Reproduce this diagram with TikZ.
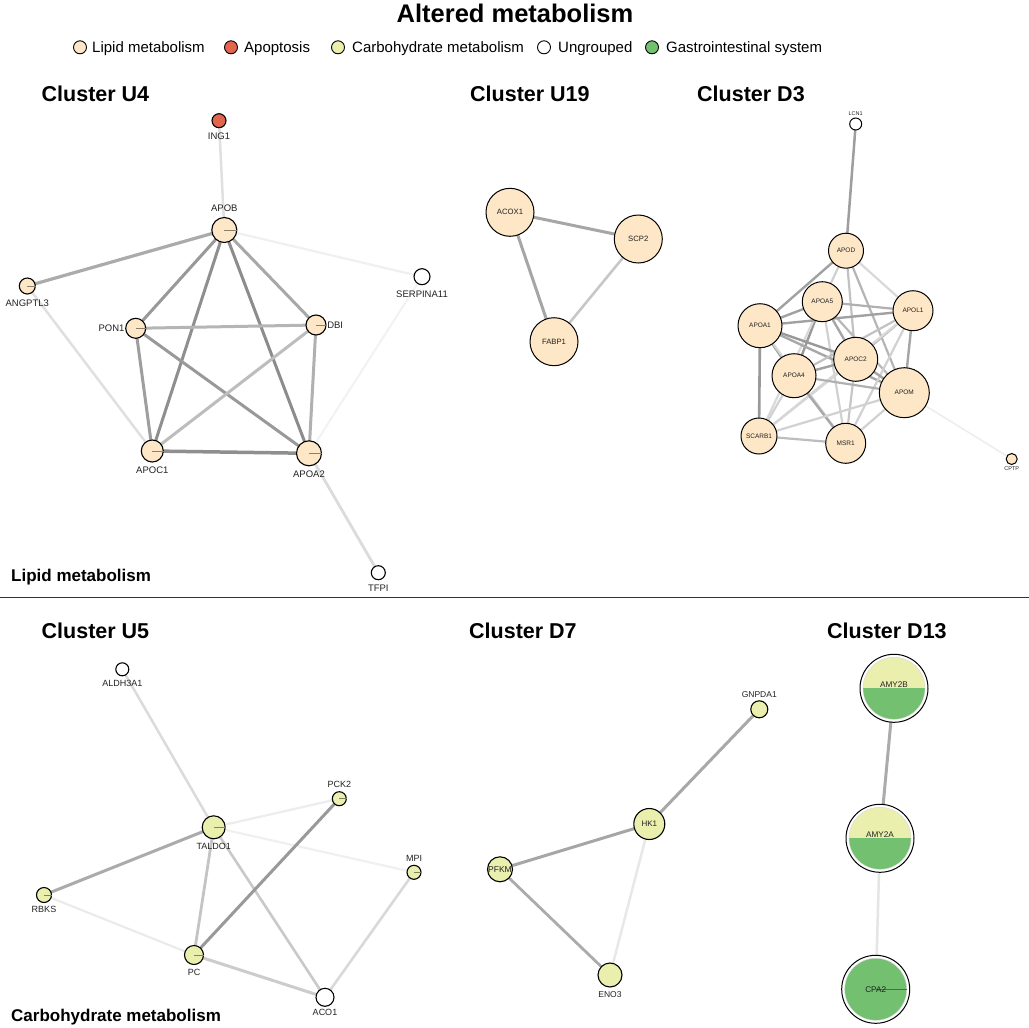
\documentclass[tikz,border=0pt]{standalone}
\usepackage{fontspec}
\setmainfont{Liberation Sans}
\pgfdeclarelayer{bg}
\pgfdeclarelayer{edges}
\pgfsetlayers{bg,edges,main}
\definecolor{lipid}{HTML}{FDE7C6}
\definecolor{apop}{HTML}{E3654D}
\definecolor{carb}{HTML}{EBEFAE}
\definecolor{gastro}{HTML}{72C070}
\definecolor{txt}{HTML}{222222}
\tikzset{
  gnode/.style={circle, draw=black, line width=1.1pt, inner sep=0pt, minimum size=#1, text=txt},
  lipn/.style={gnode=#1, fill=lipid},
  apon/.style={gnode=#1, fill=apop},
  carbn/.style={gnode=#1, fill=carb},
  ungn/.style={gnode=#1, fill=white},
  lbl/.style={font=\fontsize{9.5}{10}\selectfont, text=txt, inner sep=0.5pt},
  lblc/.style={font=\fontsize{9}{10}\selectfont, text=txt, inner sep=0.5pt},
  lbld/.style={font=\fontsize{8.5}{10}\selectfont, text=txt, inner sep=0.5pt},
  tiny/.style={font=\fontsize{5.5}{6}\selectfont, text=txt, inner sep=0.5pt},
  ed/.style 2 args={draw=black!#1, line width=#2pt, line cap=round},
  tickl/.style={draw=#1, line width=0.5pt},
  ctitle/.style={font=\bfseries\fontsize{21.5}{26}\selectfont, anchor=base west, inner sep=0pt},
  stitle/.style={font=\bfseries\fontsize{17}{20}\selectfont, anchor=base west, inner sep=0pt},
  legtxt/.style={font=\fontsize{15}{18}\selectfont, anchor=base west, inner sep=0pt},
  legc/.style={circle, draw=black, line width=0.9pt, inner sep=0pt, minimum size=13},
}
\begin{document}
\begin{tikzpicture}[x=1pt,y=-1pt]
\useasboundingbox (0,0) rectangle (1029,1028);
\begin{pgfonlayer}{bg}
\fill[white] (0,0) rectangle (1029,1028);
\end{pgfonlayer}

% title and legend
\node[font=\bfseries\fontsize{25.5}{30}\selectfont, anchor=base, inner sep=0pt] (title) at (515,22.7) {Altered metabolism};
\node[legc, fill=lipid] (lg1) at (80,47.3) {};
\node[legtxt] (lt1) at (92,52.3) {Lipid metabolism};
\node[legc, fill=apop] (lg2) at (231,47.3) {};
\node[legtxt] (lt2) at (244,52.3) {Apoptosis};
\node[legc, fill=carb] (lg3) at (338,47.3) {};
\node[legtxt] (lt3) at (352,52.3) {Carbohydrate metabolism};
\node[legc, fill=white] (lg4) at (544,47.3) {};
\node[legtxt] (lt4) at (558,52.3) {Ungrouped};
\node[legc, fill=gastro] (lg5) at (652,47.3) {};
\node[legtxt] (lt5) at (666,52.3) {Gastrointestinal system};

% section titles
\node[ctitle] (tU4) at (41.5,101.7) {Cluster U4};
\node[ctitle] (tU19) at (470,101.7) {Cluster U19};
\node[ctitle] (tD3) at (697,101.7) {Cluster D3};
\node[ctitle] (tU5) at (41.5,638.3) {Cluster U5};
\node[ctitle] (tD7) at (469,638.3) {Cluster D7};
\node[ctitle] (tD13) at (827,638.3) {Cluster D13};
\node[stitle] (sLip) at (11,581.7) {Lipid metabolism};
\node[stitle] (sCarb) at (11,1021.5) {Carbohydrate metabolism};
\coordinate (sepL) at (0,597.7);
\coordinate (sepR) at (1029,597.7);
\draw[line width=1.2pt, draw=black!80] (sepL) -- (sepR);

% ---------------- Cluster U4
\node[apon=14, label={[lbl,label distance=3.5pt]below:ING1}] (ING1) at (219,120.7) {};
\node[lipn=25, label={[lbl,label distance=4.5pt]above:APOB}] (APOB) at (224.3,230) {};
\node[lipn=16, label={[lbl,label distance=4.5pt]below:ANGPTL3}] (ANGPTL3) at (27.3,286) {};
\node[ungn=16, label={[lbl,label distance=4.5pt]below:SERPINA11}] (SERPINA11) at (422,276.7) {};
\node[lipn=20, label={[lbl,label distance=0pt]left:PON1}] (PON1) at (135.7,328.3) {};
\node[lipn=20, label={[lbl,label distance=0pt]right:DBI}] (DBI) at (316,325) {};
\node[lipn=22, label={[lbl,label distance=4pt]below:APOC1}] (APOC1) at (152.3,451) {};
\node[lipn=25, label={[lbl,label distance=4pt]below:APOA2}] (APOA2) at (309,453.3) {};
\node[ungn=14, label={[lbl,label distance=4pt]below:TFPI}] (TFPI) at (378.3,572.7) {};
\foreach \n in {APOB,ANGPTL3,PON1,DBI,APOC1,APOA2}
  \draw[tickl=lipid!55!black] (\n.center) -- (\n.east);
\begin{pgfonlayer}{edges}
\foreach \a/\b/\c/\w in {ING1/APOB/12/2.5, APOB/ANGPTL3/33/3.2, APOB/PON1/40/3, APOB/APOC1/44/3,
  APOB/APOA2/45/3, APOB/DBI/34/3, APOB/SERPINA11/6/2.2, PON1/DBI/29/3, PON1/APOC1/38/3,
  PON1/APOA2/40/3, DBI/APOC1/26/3, DBI/APOA2/31/3, APOC1/APOA2/44/3.5, ANGPTL3/APOC1/12/2.5,
  SERPINA11/APOA2/5/2, APOA2/TFPI/14/2.8}
  \draw[ed={\c}{\w}] (\a) -- (\b);
\end{pgfonlayer}

% ---------------- Cluster U19
\node[lipn=48, font=\fontsize{7.7}{9}\selectfont, line width=1pt] (ACOX1) at (510,212.3) {ACOX1};
\node[lipn=48, font=\fontsize{7.7}{9}\selectfont, line width=1pt] (SCP2) at (638.3,239) {SCP2};
\node[lipn=48, font=\fontsize{7.7}{9}\selectfont, line width=1pt] (FABP1) at (554,341.7) {FABP1};
\begin{pgfonlayer}{edges}
\foreach \a/\b/\c/\w in {ACOX1/SCP2/35/3, ACOX1/FABP1/35/3, SCP2/FABP1/22/2.6}
  \draw[ed={\c}{\w}] (\a) -- (\b);
\end{pgfonlayer}

% ---------------- Cluster D3
\tikzset{dn/.style={lipn=#1, font=\fontsize{6.5}{7}\selectfont, line width=1pt}}
\node[ungn=12, line width=1pt, label={[tiny,label distance=1pt]above:LCN1}] (LCN1) at (855.7,124) {};
\node[dn=35] (APOD) at (846,250.7) {APOD};
\node[dn=40] (APOA5) at (822.3,301.7) {APOA5};
\node[dn=40] (APOL1) at (913,310.7) {APOL1};
\node[dn=44] (APOA1) at (760,325.7) {APOA1};
\node[dn=44] (APOC2) at (855.7,359.3) {APOC2};
\node[dn=44] (APOA4) at (794,375.7) {APOA4};
\node[dn=50] (APOM) at (904.3,392.7) {APOM};
\node[dn=36] (SCARB1) at (759,436) {SCARB1};
\node[dn=40] (MSR1) at (845.7,443.3) {MSR1};
\node[lipn=11, line width=1pt, label={[tiny,label distance=1pt]below:CPTP}] (CPTP) at (1011.7,459) {};
\begin{pgfonlayer}{edges}
\foreach \a/\b/\c/\w in {LCN1/APOD/38/2.5, APOD/APOA1/37/2.4, APOD/APOA5/18/2.2, APOD/APOC2/24/2.2,
  APOD/APOL1/15/2.2, APOD/APOM/29/2.2,
  APOA5/APOA1/37/2.4, APOA5/APOL1/31/2.2, APOA5/APOC2/35/2.4, APOA5/APOA4/40/2.4, APOA5/APOM/28/2.2,
  APOA5/MSR1/18/2.2, APOA5/SCARB1/15/2.2,
  APOA1/APOL1/37/2.4, APOA1/APOC2/40/2.4, APOA1/APOA4/37/2.4, APOA1/APOM/34/2.4, APOA1/SCARB1/40/2.6,
  APOA1/MSR1/16/2.2,
  APOL1/APOC2/29/2.2, APOL1/APOA4/24/2.2, APOL1/APOM/35/2.4, APOL1/SCARB1/15/2.2, APOL1/MSR1/18/2.2,
  APOC2/APOA4/37/2.4, APOC2/APOM/35/2.4, APOC2/SCARB1/16/2.2, APOC2/MSR1/22/2.2,
  APOA4/APOM/31/2.2, APOA4/SCARB1/18/2.2, APOA4/MSR1/34/2.4,
  APOM/SCARB1/18/2.2, APOM/MSR1/18/2.2, APOM/CPTP/7/1.5, SCARB1/MSR1/26/2.2}
  \draw[ed={\c}{\w}] (\a) -- (\b);
\end{pgfonlayer}

% ---------------- Cluster U5
\node[ungn=13, label={[lblc,label distance=3pt]below:ALDH3A1}] (ALDH3A1) at (122.3,669.3) {};
\node[carbn=14, label={[lblc,label distance=2.5pt]above:PCK2}] (PCK2) at (339.3,798.7) {};
\node[carbn=23, label={[lblc,label distance=3pt]below:TALDO1}] (TALDO1) at (213.7,827.3) {};
\node[carbn=14, label={[lblc,label distance=2.5pt]above:MPI}] (MPI) at (414,872.3) {};
\node[carbn=15, label={[lblc,label distance=2.5pt]below:RBKS}] (RBKS) at (44,895) {};
\node[carbn=19, label={[lblc,label distance=3.5pt]below:PC}] (PC) at (194,955) {};
\node[ungn=18, label={[lblc,label distance=2pt]below:ACO1}] (ACO1) at (325,997.3) {};
\foreach \n in {PCK2,TALDO1,MPI,RBKS,PC}
  \draw[tickl=carb!55!black] (\n.center) -- (\n.east);
\begin{pgfonlayer}{edges}
\foreach \a/\b/\c/\w in {ALDH3A1/TALDO1/14/2.5, TALDO1/PCK2/7/2.2, TALDO1/MPI/6/2.2, TALDO1/RBKS/33/3,
  TALDO1/PC/23/2.8, TALDO1/ACO1/21/2.6, PCK2/PC/40/3, RBKS/PC/8/2.2, PC/ACO1/20/3, MPI/ACO1/15/2.6}
  \draw[ed={\c}{\w}] (\a) -- (\b);
\end{pgfonlayer}

% ---------------- Cluster D7
\node[carbn=17, label={[lbld,label distance=2pt]above:GNPDA1}] (GNPDA1) at (759.3,709.3) {};
\node[carbn=31, font=\fontsize{8}{9}\selectfont] (HK1) at (649.3,824) {HK1};
\node[carbn=25, font=\fontsize{8.5}{9}\selectfont] (PFKM) at (500,869.3) {PFKM};
\node[carbn=24, label={[lbld,label distance=3pt]below:ENO3}] (ENO3) at (610,975) {};
\begin{pgfonlayer}{edges}
\foreach \a/\b/\c/\w in {GNPDA1/HK1/34/3, HK1/PFKM/35/3, PFKM/ENO3/33/2.8, HK1/ENO3/9/2.5}
  \draw[ed={\c}{\w}] (\a) -- (\b);
\end{pgfonlayer}

% ---------------- Cluster D13
\coordinate (cB) at (894,688.3);
\coordinate (cA) at (880,838.3);
\coordinate (cC) at (875.7,989.3);
\foreach \p in {cB,cA} {
  \begin{scope}
    \clip (\p) circle[radius=31pt];
    \fill[carb] (\p) ++(-33,0) rectangle ++(66,-33);
    \fill[gastro] (\p) ++(-33,0) rectangle ++(66,33);
  \end{scope}
  \draw[black!15, line width=0.4pt] (\p) circle[radius=31pt];
}
\fill[gastro] (cC) circle[radius=31pt];
\draw[black!15, line width=0.4pt] (cC) circle[radius=31pt];
\draw[tickl=gastro!60!black] (cC) -- ++(31,0);
\node[gnode=68, fill=none, line width=1pt, font=\fontsize{8.2}{9}\selectfont, text height=6pt, text depth=8pt] (AMY2B) at (cB) {AMY2B};
\node[gnode=68, fill=none, line width=1pt, font=\fontsize{8.2}{9}\selectfont, text height=6pt, text depth=8pt] (AMY2A) at (cA) {AMY2A};
\node[gnode=68, fill=none, line width=1pt, font=\fontsize{8.2}{9}\selectfont] (CPA2) at (cC) {CPA2};
\begin{pgfonlayer}{edges}
\draw[ed={33}{3}] (AMY2B) -- (AMY2A);
\draw[ed={10}{2.5}] (AMY2A) -- (CPA2);
\end{pgfonlayer}
\end{tikzpicture}
\end{document}
